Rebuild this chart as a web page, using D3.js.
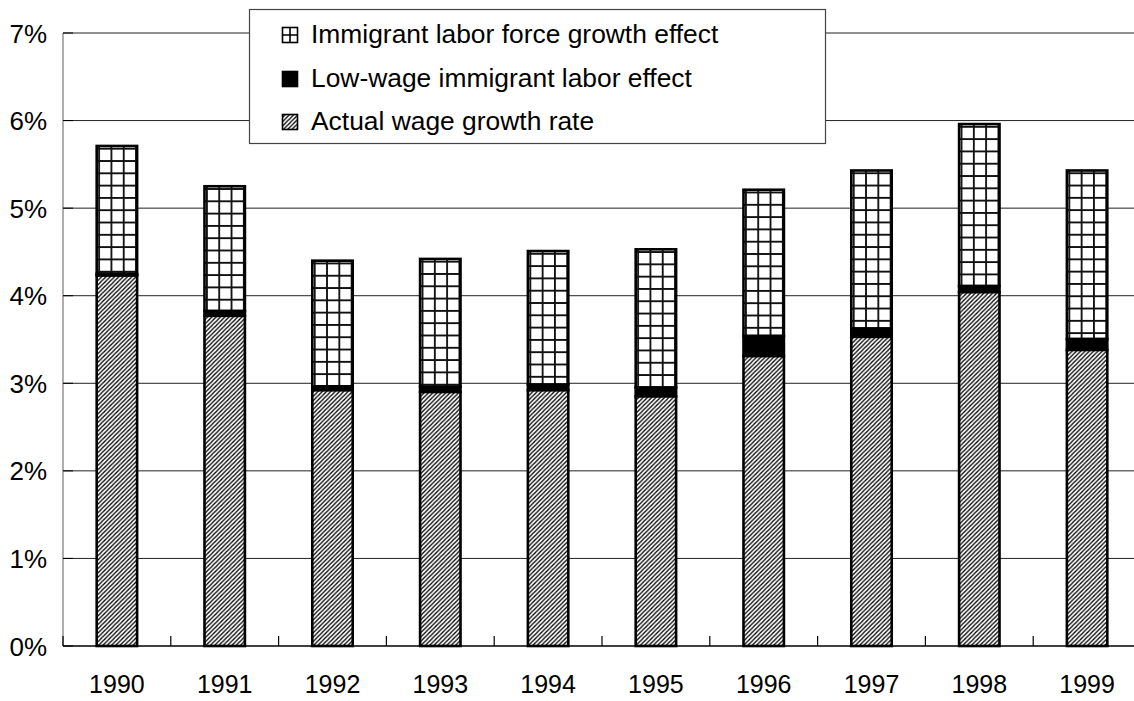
<!DOCTYPE html>
<html>
<head>
<meta charset="utf-8">
<script src="https://cdn.jsdelivr.net/npm/d3@7"></script>
<style>
  html, body { margin: 0; padding: 0; background: #fff; }
  svg { display: block; font-family: "Liberation Sans", Arial, sans-serif; }
</style>
</head>
<body>
<svg id="chart" width="1134" height="701"></svg>
<script>
// Wage growth decomposition by year (percent)
const years = ["1990", "1991", "1992", "1993", "1994", "1995", "1996", "1997", "1998", "1999"];
const actualWageGrowth = [4.23, 3.77, 2.92, 2.90, 2.92, 2.85, 3.31, 3.53, 4.04, 3.38];
const lowWageEffect = [0.02, 0.055, 0.045, 0.06, 0.065, 0.10, 0.23, 0.095, 0.07, 0.125];
const laborForceEffect = [1.46, 1.425, 1.435, 1.46, 1.525, 1.58, 1.67, 1.805, 1.85, 1.925];
const yTicks = [0, 1, 2, 3, 4, 5, 6, 7];
const seriesNames = ["Immigrant labor force growth effect", "Low-wage immigrant labor effect", "Actual wage growth rate"];

const svg = d3.select("#chart");
const margin = { left: 63, top: 33, bottom: 646, right: 1141 };

const x = d3.scaleBand().domain(years).range([margin.left, margin.right]).padding(0);
const y = d3.scaleLinear().domain([0, 7]).range([margin.bottom, margin.top]);
const barW = x.bandwidth() * 0.375;

const defs = svg.append("defs");

// Diagonal hatch for the actual wage growth rate
const hatch = defs.append("pattern")
  .attr("id", "hatch").attr("patternUnits", "userSpaceOnUse")
  .attr("width", 4.3).attr("height", 4.3);
hatch.append("rect").attr("width", 4.3).attr("height", 4.3).attr("fill", "#fff");
hatch.append("path")
  .attr("d", "M-1,1 L1,-1 M0,4.3 L4.3,0 M3.3,5.3 L5.3,3.3")
  .attr("stroke", "#000").attr("stroke-width", 1.3);

// Square grid pattern, one per bar so each starts at its bar's edge
function gridPattern(id, ox, oy) {
  const s = 12.3;
  const p = defs.append("pattern")
    .attr("id", id).attr("patternUnits", "userSpaceOnUse")
    .attr("x", ox).attr("y", oy).attr("width", s).attr("height", s);
  p.append("rect").attr("width", s).attr("height", s).attr("fill", "#fff");
  p.append("path")
    .attr("d", `M0,0.9 H${s} M0.9,0 V${s}`)
    .attr("stroke", "#111").attr("stroke-width", 1.9);
}

// Horizontal gridlines
svg.append("g").selectAll("line").data(yTicks.filter(d => d > 0)).join("line")
  .attr("x1", margin.left).attr("x2", 1134)
  .attr("y1", d => y(d)).attr("y2", d => y(d))
  .attr("stroke", "#222").attr("stroke-width", 1);

// Stacked bars
const strokeW = 2.6;
const bars = svg.append("g");
years.forEach((yr, i) => {
  const left = x(yr) + (x.bandwidth() - barW) / 2;
  const a = actualWageGrowth[i];
  const l = lowWageEffect[i];
  const g = laborForceEffect[i];
  gridPattern("grid-" + i, left + 1.5 + 12.3, y(a + l + g) + 1.8);
  const segs = [
    { lo: a + l, hi: a + l + g, fill: `url(#grid-${i})` },
    { lo: a, hi: a + l, fill: "#000" },
    { lo: 0, hi: a, fill: "url(#hatch)" }
  ];
  bars.selectAll(null).data(segs).join("rect")
    .attr("x", left).attr("width", barW)
    .attr("y", d => y(d.hi)).attr("height", d => y(d.lo) - y(d.hi))
    .attr("fill", d => d.fill)
    .attr("stroke", "#000").attr("stroke-width", strokeW);
});

// Y axis
svg.append("line")
  .attr("x1", margin.left).attr("x2", margin.left)
  .attr("y1", y(7)).attr("y2", y(0))
  .attr("stroke", "#777").attr("stroke-width", 1.2);
svg.append("g").selectAll("line").data(yTicks).join("line")
  .attr("x1", margin.left).attr("x2", margin.left + 10)
  .attr("y1", d => y(d)).attr("y2", d => y(d))
  .attr("stroke", "#000").attr("stroke-width", 1);
svg.append("g").selectAll("text").data(yTicks).join("text")
  .attr("x", 47).attr("y", d => y(d) + 9.5)
  .attr("text-anchor", "end")
  .attr("font-size", 26).attr("fill", "#000")
  .text(d => d + "%");

// X axis
svg.append("line")
  .attr("x1", margin.left).attr("x2", 1134)
  .attr("y1", y(0)).attr("y2", y(0))
  .attr("stroke", "#000").attr("stroke-width", 1.5);
svg.append("g").selectAll("line").data(years).join("line")
  .attr("x1", d => x(d)).attr("x2", d => x(d))
  .attr("y1", y(0)).attr("y2", y(0) - 10)
  .attr("stroke", "#000").attr("stroke-width", 1.2);
svg.append("g").selectAll("text").data(years).join("text")
  .attr("x", d => x(d) + x.bandwidth() / 2).attr("y", 693)
  .attr("text-anchor", "middle")
  .attr("font-size", 25).attr("fill", "#000")
  .text(d => d);

// Legend
const legend = svg.append("g");
legend.append("rect")
  .attr("x", 249.5).attr("y", 9.5).attr("width", 576).attr("height", 134)
  .attr("fill", "#fff").attr("stroke", "#444").attr("stroke-width", 1.2);
const legendFills = ["#fff", "#000", "url(#hatch)"];
const rowBase = [43, 87, 130];
seriesNames.forEach((name, i) => {
  const sx = 282.5, sy = rowBase[i] - 15.5, sw = 15;
  legend.append("rect")
    .attr("x", sx).attr("y", sy).attr("width", sw).attr("height", sw)
    .attr("fill", legendFills[i]).attr("stroke", "#000").attr("stroke-width", 1.6);
  if (i === 0) {
    // swatch for the grid fill: a single cross inside the square
    legend.append("path")
      .attr("d", `M${sx},${sy + sw / 2} H${sx + sw} M${sx + sw / 2},${sy} V${sy + sw}`)
      .attr("stroke", "#000").attr("stroke-width", 1.6);
  }
  legend.append("text")
    .attr("x", 311).attr("y", rowBase[i])
    .attr("font-size", 26.4).attr("fill", "#000")
    .text(name);
});
</script>
</body>
</html>
